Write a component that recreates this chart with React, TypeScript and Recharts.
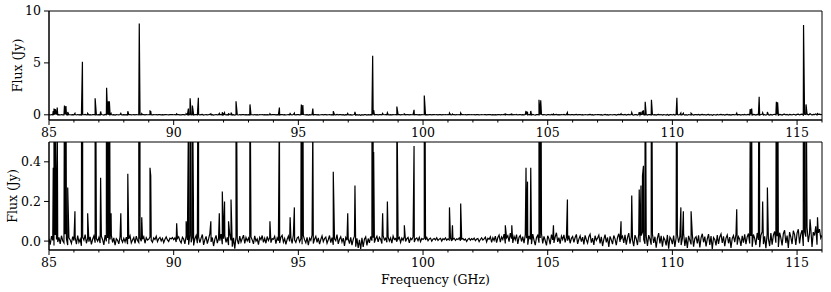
import { ComposedChart, Line, XAxis, YAxis, ReferenceArea } from 'recharts';

// baseline noise, mJy, sampled every 0.05 GHz from 85 GHz (one row per GHz)
const noiseStart = 85;
const noiseStep = 0.05;
const noiseMJy = [
  12, -18, 25, 4, -22, 31, 8, -5, 19, -14, 27, 2, -9, 35, 11, -20, 16, 6, -12, 22,
  3, 17, -15, 28, -6, 10, -24, 19, 5, 33, -11, 14, -3, 21, -17, 9, 26, -8, 13, 0,
  18, -10, 24, 7, -19, 30, -2, 15, -13, 8, 29, -7, 16, -21, 12, 4, -14, 23, 9, -6,
  14, -4, 20, -16, 11, 27, -9, 6, 18, -12, 25, 3, -7, 15, -1, 9, 22, -11, 17, 5,
  10, 20, 4, -6, 16, 8, 24, -3, 12, 19, 1, 14, -8, 9, 21, 6, -2, 15, 11, 18,
  7, 16, -5, 13, 22, 2, -9, 19, 10, -14, 26, 5, -18, 30, -6, 17, -22, 12, 28, -11,
  20, -8, 15, 33, -19, 6, 24, -13, 11, 38, -4, 18, -25, 9, 29, -10, 14, 2, 35, -16,
  12, 27, -7, 19, -20, 31, 4, -28, 16, -38, 22, 8, -15, 25, -5, 13, 30, -12, 18, 1,
  15, -9, 21, 6, -14, 26, 0, 11, -18, 19, 7, 28, -6, 14, -11, 23, 3, 17, -8, 12,
  9, 24, -13, 16, 2, -10, 20, 29, -5, 13, -17, 8, 25, -2, 18, -12, 31, 5, -7, 15,
  21, -4, 11, -16, 27, 6, -9, 19, -21, 14, 3, 30, -12, 10, 24, -6, 16, -15, 8, 26,
  -3, 13, 20, -11, 7, 28, -8, 17, -19, 12, 2, 33, -14, 9, 22, -5, 15, -24, 18, 4,
  11, -13, 19, -20, 8, 25, -28, 14, -35, 6, -40, 16, -30, 10, 21, -22, 13, -9, 23, 2,
  17, -8, 12, 24, -4, 19, 9, -12, 27, 6, 14, -6, 21, 1, 16, -10, 25, 8, 13, -3,
  10, 19, -7, 15, 4, 23, -2, 12, 18, -9, 14, 7, 21, -5, 11, 16, 2, 19, -3, 13,
  8, 14, 5, 18, 2, 11, 15, -1, 9, 13, 6, 17, 3, 10, 14, 0, 12, 7, 16, 4,
  11, 6, 15, 1, 9, 14, 3, 12, 8, 16, 2, 10, 13, 5, 11, -2, 9, 14, 4, 12,
  7, 15, 2, 10, 13, -3, 8, 16, 5, 11, 20, -4, 14, 9, 22, -6, 17, 3, 25, -8,
  18, 30, -5, 21, 8, 35, -12, 16, 27, -3, 40, 12, -9, 24, 6, 33, -14, 19, 28, -2,
  22, -10, 31, 14, -18, 26, 9, -15, 35, 5, -20, 18, 29, -8, 16, 38, -12, 24, 3, -22,
  27, 11, -16, 33, 6, -9, 21, 42, -4, 17, -13, 25, 8, 31, -7, 19, 2, 28, -11, 14,
  23, -6, 18, 34, -14, 10, 26, -3, 20, -17, 29, 7, -10, 22, 35, -8, 15, -19, 27, 4,
  16, 30, -12, 21, -25, 9, 33, -7, 18, -30, 24, 6, -15, 28, 11, -21, 19, 37, -4, 14,
  25, -9, 32, -18, 17, 40, -13, 22, 5, -26, 30, 12, -20, 36, -6, 28, 45, 8, -14, 26,
  -24, 30, 10, -18, 35, -9, 22, -33, 15, 40, -12, 27, -28, 18, 6, -22, 31, -38, 20, 9,
  -15, 28, -30, 17, 33, -8, 24, -20, 12, 38, -25, 19, -35, 26, 5, -17, 32, -28, 14, 22,
  -12, 29, -32, 16, 37, -6, 23, -27, 11, 35, -19, 25, -40, 18, 8, -22, 30, -14, 21, 36,
  -9, 24, -26, 15, 31, -11, 20, -34, 13, 28, -5, 33, -18, 22, 10, -24, 27, -8, 34, -16,
  21, 38, -12, 26, -29, 33, 14, -20, 41, 6, -31, 29, 47, -15, 24, -36, 35, 12, -25, 40,
  -18, 30, 48, -8, 25, -30, 42, 16, -22, 37, 55, -10, 28, -35, 45, 20, -15, 52, 33, -20,
  40, 60, -12, 35, 55, -25, 48, 22, 70, -5, 38, 65, -30, 45, 28, 75, -18, 42, 60, 15,
  30,
];

// spectral lines: frequency (GHz) and peak flux (Jy)
const lineFreqs = [
  85.17, 85.2, 85.25, 85.33, 85.62, 85.68, 85.75, 86.04, 86.34, 86.55,
  86.85, 87.07, 87.31, 87.38, 87.42, 87.49, 87.88, 88.16, 88.62, 88.72,
  89.05, 89.08, 90.12, 90.5, 90.59, 90.66, 90.75, 90.79, 90.99, 91.49,
  91.83, 91.95, 92.04, 92.2, 92.3, 92.5, 93.06, 93.86, 94.24, 94.67,
  94.84, 95.12, 95.18, 95.58, 96.4, 96.98, 97.27, 97.98, 98.02, 98.38,
  98.57, 98.95, 99.25, 99.64, 100.05, 101.06, 101.18, 101.51, 103.3, 103.56,
  104.13, 104.19, 104.32, 104.65, 104.72, 105.23, 105.79, 107.94, 108.37, 108.67,
  108.74, 108.8, 108.84, 108.91, 109.16, 110.18, 110.34, 110.44, 110.75, 112.58,
  113.12, 113.18, 113.48, 113.62, 113.81, 114.17, 114.22, 115.26, 115.36, 115.52,
  115.82,
];
const linePeaks = [
  0.37, 0.6, 0.55, 0.7, 0.9, 0.85, 0.27, 0.15, 5.1, 0.14,
  1.6, 0.32, 2.6, 1.3, 1.3, 0.14, 0.14, 0.34, 8.8, 0.12,
  0.37, 0.33, 0.09, 0.1, 0.6, 1.6, 0.9, 0.22, 1.65, 0.1,
  0.14, 0.25, 0.2, 0.1, 0.21, 1.3, 1.0, 0.1, 0.7, 0.12,
  0.17, 1.0, 0.95, 0.6, 0.35, 0.14, 0.28, 5.7, 0.45, 0.14,
  0.2, 0.8, 0.08, 0.48, 1.85, 0.17, 0.08, 0.19, 0.08, 0.08,
  0.37, 0.3, 0.37, 1.45, 1.4, 0.08, 0.21, 0.1, 0.23, 0.26,
  0.28, 0.33, 0.38, 1.25, 1.45, 1.63, 0.17, 0.15, 0.15, 0.16,
  0.55, 0.6, 1.73, 0.2, 0.27, 1.25, 1.2, 8.65, 1.0, 0.11,
  0.12,
];

const freqTicks = [
  85, 86, 87, 88, 89, 90, 91, 92, 93, 94, 95, 96, 97, 98, 99, 100,
  101, 102, 103, 104, 105, 106, 107, 108, 109, 110, 111, 112, 113, 114, 115, 116,
];
const topFluxTicks = [0, 5, 10];
const bottomFluxTicks = [0, 0.2, 0.4];

const spectrum = [
  ...noiseMJy.map((v, i) => ({ f: noiseStart + i * noiseStep, flux: v / 1000 })),
  ...lineFreqs.map((f, i) => ({ f, flux: linePeaks[i] })),
].sort((a, b) => a.f - b.f);

const FONT = '"DejaVu Serif", serif';
const FS = 12.5;

const FreqTick = (props: any) => {
  const { x, y, payload } = props;
  const major = payload.value % 5 === 0;
  return (
    <g>
      <line x1={x} x2={x} y1={y} y2={y + (major ? 5 : 2.5)} stroke="#000" strokeWidth={1} />
      {major && (
        <text x={x} y={y + 17} textAnchor="middle" fontSize={FS} fontFamily={FONT} fill="#000">
          {payload.value}
        </text>
      )}
    </g>
  );
};

interface PanelProps {
  top: number;
  height: number;
  marginTop: number;
  axisHeight: number;
  domain: [number, number];
  ticks: number[];
  decimals: number;
  labelX: number;
  labelY: number;
  xLabel?: boolean;
}

function Panel({ top, height, marginTop, axisHeight, domain, ticks, decimals, labelX, labelY, xLabel }: PanelProps) {
  return (
    <div style={{ position: 'absolute', left: 0, top }}>
      <ComposedChart
        width={831}
        height={height}
        data={spectrum}
        margin={{ top: marginTop, right: 9, left: 0, bottom: 0 }}
      >
        <XAxis
          dataKey="f"
          type="number"
          domain={[85, 116]}
          allowDataOverflow
          ticks={freqTicks}
          interval={0}
          tick={<FreqTick />}
          tickLine={false}
          tickSize={0}
          tickMargin={0}
          stroke="#000"
          height={axisHeight}
          label={
            xLabel
              ? () => (
                  <text x={435.5} y={height - 8} textAnchor="middle" fontSize={FS} fontFamily={FONT} fill="#000">
                    Frequency (GHz)
                  </text>
                )
              : undefined
          }
        />
        <YAxis
          type="number"
          domain={domain}
          allowDataOverflow
          ticks={ticks}
          interval={0}
          width={49}
          tickSize={5}
          tickMargin={3}
          stroke="#000"
          tick={{ fill: '#000', fontSize: FS, fontFamily: FONT }}
          tickFormatter={(v: number) => v.toFixed(decimals)}
          label={() => (
            <text
              x={labelX}
              y={labelY}
              transform={`rotate(-90 ${labelX} ${labelY})`}
              textAnchor="middle"
              dominantBaseline="central"
              fontSize={FS}
              fontFamily={FONT}
              fill="#000"
            >
              Flux (Jy)
            </text>
          )}
        />
        <ReferenceArea x1={85} x2={116} y1={domain[0]} y2={domain[1]} fill="none" stroke="#000" strokeWidth={1} />
        <Line
          type="linear"
          dataKey="flux"
          stroke="#000"
          strokeWidth={1.2}
          dot={false}
          activeDot={false}
          isAnimationActive={false}
        />
      </ComposedChart>
    </div>
  );
}

export default function App() {
  return (
    <div style={{ position: 'absolute', left: 0, top: 0, width: 831, height: 292, background: '#fff' }}>
      <Panel
        top={0}
        height={140}
        marginTop={11}
        axisHeight={20}
        domain={[-0.5, 10]}
        ticks={topFluxTicks}
        decimals={0}
        labelX={17}
        labelY={65.5}
      />
      <Panel
        top={140}
        height={152}
        marginTop={2}
        axisHeight={42}
        domain={[-0.045, 0.5]}
        ticks={bottomFluxTicks}
        decimals={1}
        labelX={12}
        labelY={56}
        xLabel
      />
    </div>
  );
}
